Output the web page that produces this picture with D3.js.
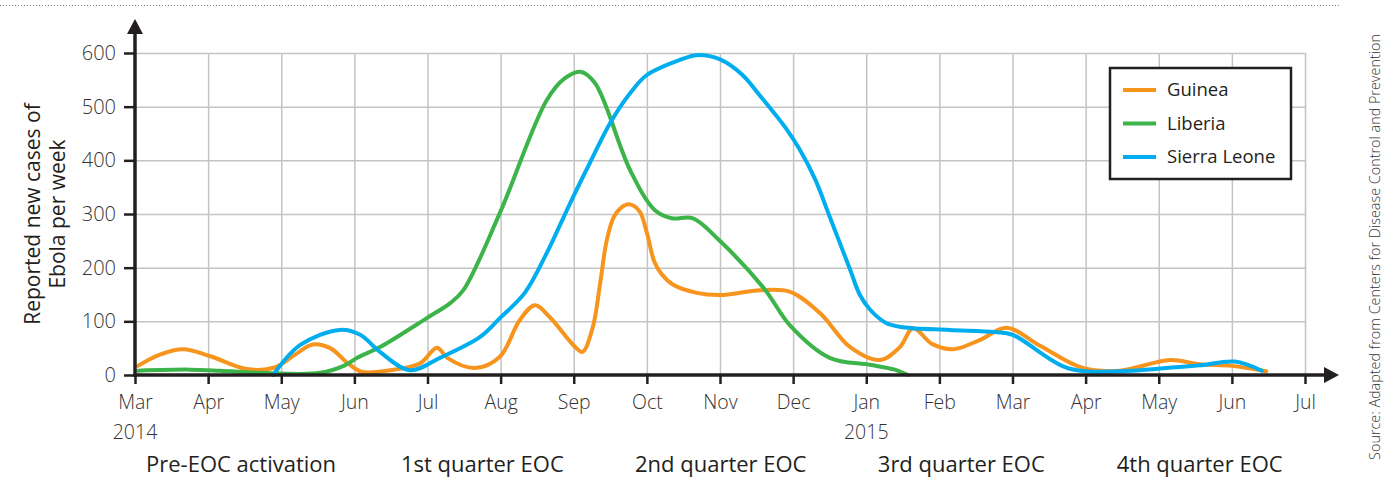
<!DOCTYPE html>
<html>
<head>
<meta charset="utf-8">
<script src="https://cdn.jsdelivr.net/npm/d3@7"></script>
<style>
  body { margin: 0; background: #fff; }
  svg text { font-family: "Open Sans", "Noto Sans", sans-serif; }
</style>
</head>
<body>
<div id="chart-area"></div>
<script>
// months since Mar 2014
var monthLabels = ["Mar","Apr","May","Jun","Jul","Aug","Sep","Oct","Nov","Dec","Jan","Feb","Mar","Apr","May","Jun","Jul"];
var yearLabels = [{m:0,text:"2014"},{m:10,text:"2015"}];
var yTicks = [0,100,200,300,400,500,600];
var phases = [{m:1.45,text:"Pre-EOC activation"},{m:4.75,text:"1st quarter EOC"},{m:8.01,text:"2nd quarter EOC"},{m:11.3,text:"3rd quarter EOC"},{m:14.56,text:"4th quarter EOC"}];
var countries = ["Guinea","Liberia","Sierra Leone"];

// [month offset, new cases per week]
var guinea = [[0.04,17],[0.34,38],[0.66,48],[1.03,35],[1.53,11],[1.91,14],[2.19,38],[2.43,57],[2.67,50],[2.91,22],[3.1,6],
  [3.49,9],[3.9,22],[4.13,51],[4.27,32],[4.65,13],[4.99,34],[5.26,102],[5.47,130],[5.67,108],[6.02,52],[6.12,43],[6.26,89],
  [6.36,170],[6.45,250],[6.55,295],[6.68,315],[6.77,318],[6.9,305],[7.0,265],[7.1,212],[7.2,188],[7.36,168],[7.68,153],
  [8.0,149],[8.55,158],[8.96,155],[9.37,115],[9.78,52],[10.19,28],[10.46,52],[10.64,87],[10.9,58],[11.19,48],[11.55,65],
  [11.92,88],[12.37,55],[12.96,13],[13.47,8],[14.15,28],[14.56,20],[15.0,17],[15.47,7]];
var liberia = [[0.04,8],[0.75,10],[1.16,8],[1.71,4],[2.53,4],[2.87,18],[3.04,32],[3.35,52],[3.99,106],[4.31,134],[4.49,158],
  [4.99,302],[5.63,512],[5.88,553],[6.09,565],[6.29,544],[6.77,382],[7.11,307],[7.34,292],[7.63,292],[7.99,251],[8.61,160],
  [8.96,92],[9.5,32],[10.05,19],[10.39,10],[10.57,0]];
var sierraLeone = [[1.89,0],[2.26,56],[2.8,84],[3.08,75],[3.35,43],[3.76,9],[4.17,32],[4.72,71],[4.99,106],[5.33,153],
  [5.63,227],[5.95,320],[6.22,395],[6.5,470],[6.77,525],[7.0,559],[7.45,587],[7.68,596],[8.0,588],[8.3,560],[8.55,520],
  [8.9,460],[9.09,420],[9.3,365],[9.5,295],[9.78,196],[9.91,150],[10.05,122],[10.27,97],[10.5,89],[11.14,84],[11.76,80],
  [12.0,75],[12.75,13],[13.47,7],[14.02,12],[14.56,18],[15.04,25],[15.41,8]];

var colors = {"Guinea":"#f7941d","Liberia":"#3cb44a","Sierra Leone":"#00aeef"};
var seriesData = {"Guinea":guinea,"Liberia":liberia,"Sierra Leone":sierraLeone};

var W = 1391, H = 478;
var margin = {left:135, top:53};
var width = 1170, height = 322;

var svg = d3.select("#chart-area").append("svg")
    .attr("width", W)
    .attr("height", H);

// dotted rule along the top
svg.append("line")
    .attr("x1",0).attr("x2",1340).attr("y1",5.5).attr("y2",5.5)
    .attr("stroke","#8a8a8a").attr("stroke-width",1).attr("stroke-dasharray","1,2");

var g = svg.append("g")
    .attr("transform","translate("+margin.left+","+margin.top+")");

var x = d3.scaleLinear().domain([0,16]).range([0,width]);
var y = d3.scaleLinear().domain([0,600]).range([height,0]);

// grid
g.append("g")
    .attr("class","grid x")
    .attr("transform","translate(0,"+height+")")
    .call(d3.axisBottom(x).tickValues(d3.range(1,17)).tickSize(-height).tickFormat(""))
    .call(s => s.select(".domain").remove())
    .selectAll("line").attr("stroke","#c4c4c4").attr("stroke-width",1.5);

g.append("g")
    .attr("class","grid y")
    .call(d3.axisLeft(y).tickValues(yTicks.slice(1)).tickSize(-width).tickFormat(""))
    .call(s => s.select(".domain").remove())
    .selectAll("line").attr("stroke","#c4c4c4").attr("stroke-width",1.5);

// lines
var line = d3.line()
    .x(d => x(d[0]))
    .y(d => y(d[1]))
    .curve(d3.curveCatmullRom.alpha(0.5));

countries.forEach(c => {
    g.append("path")
        .datum(seriesData[c])
        .attr("fill","none")
        .attr("stroke",colors[c])
        .attr("stroke-width",4)
        .attr("stroke-linejoin","round")
        .attr("stroke-linecap","round")
        .attr("d",line);
});

// y axis
var leftAxis = g.append("g")
    .attr("class","left axis")
    .call(d3.axisLeft(y).tickValues(yTicks).tickSize(11).tickPadding(8));
leftAxis.select(".domain").remove();
leftAxis.selectAll("line").attr("stroke","#231f20").attr("stroke-width",2.5);
leftAxis.selectAll("text").attr("fill","#333").attr("font-size","20px").attr("font-weight",300);

// x axis
var bottomAxis = g.append("g")
    .attr("class","bottom axis")
    .attr("transform","translate(0,"+height+")")
    .call(d3.axisBottom(x).tickValues(d3.range(0,17)).tickSize(9).tickPadding(11)
        .tickFormat((d,i) => monthLabels[i]));
bottomAxis.select(".domain").remove();
bottomAxis.selectAll("line").attr("stroke","#231f20").attr("stroke-width",2.5);
bottomAxis.selectAll("text").attr("fill","#333").attr("font-size","19.5px").attr("font-weight",300);

g.selectAll(".year-label")
    .data(yearLabels)
    .enter().append("text")
    .attr("class","year-label")
    .attr("x", d => x(d.m))
    .attr("y", height+64)
    .attr("text-anchor","middle")
    .attr("font-size","19.5px")
    .attr("font-weight",300)
    .attr("fill","#333")
    .text(d => d.text);

// axis lines with arrows
g.append("line")
    .attr("x1",0).attr("x2",0).attr("y1",height+1.5).attr("y2",-22)
    .attr("stroke","#231f20").attr("stroke-width",3.5);
g.append("path")
    .attr("d","M-8,-19L0,-34L8,-19Z")
    .attr("fill","#231f20");
g.append("line")
    .attr("x1",-1.5).attr("x2",width+22).attr("y1",height).attr("y2",height)
    .attr("stroke","#231f20").attr("stroke-width",3.5);
g.append("path")
    .attr("d","M"+(width+19)+","+(height-8)+"L"+(width+34)+","+height+"L"+(width+19)+","+(height+8)+"Z")
    .attr("fill","#231f20");

// phase labels
g.selectAll(".phase")
    .data(phases)
    .enter().append("text")
    .attr("class","phase")
    .attr("x", d => x(d.m))
    .attr("y", height+97)
    .attr("text-anchor","middle")
    .attr("font-size","22px")
    .attr("fill","#231f20")
    .text(d => d.text);

// y label
var ylab = svg.append("text")
    .attr("transform","translate(40,214) rotate(-90)")
    .attr("text-anchor","middle")
    .attr("font-size","21px")
    .attr("fill","#231f20");
ylab.append("tspan").attr("x",0).attr("y",0).text("Reported new cases of");
ylab.append("tspan").attr("x",0).attr("y",25).text("Ebola per week");

// legend
var legend = svg.append("g").attr("transform","translate(1110,68)");
legend.append("rect")
    .attr("width",181).attr("height",111)
    .attr("fill","#fff").attr("stroke","#231f20").attr("stroke-width",2.5);
countries.forEach((c,i) => {
    var row = legend.append("g").attr("transform","translate(0,"+(22+i*33.5)+")");
    row.append("line").attr("x1",13).attr("x2",46).attr("y1",0).attr("y2",0)
        .attr("stroke",colors[c]).attr("stroke-width",4);
    row.append("text").attr("x",57).attr("y",0).attr("dy","0.35em")
        .attr("font-size","18.5px").attr("fill","#231f20").text(c);
});

// source
svg.append("text")
    .attr("transform","translate(1380,247) rotate(-90)")
    .attr("text-anchor","middle")
    .attr("font-size","14.4px")
    .attr("font-weight",300)
    .attr("fill","#333")
    .text("Source:  Adapted from Centers for Disease Control and Prevention");
</script>
</body>
</html>
